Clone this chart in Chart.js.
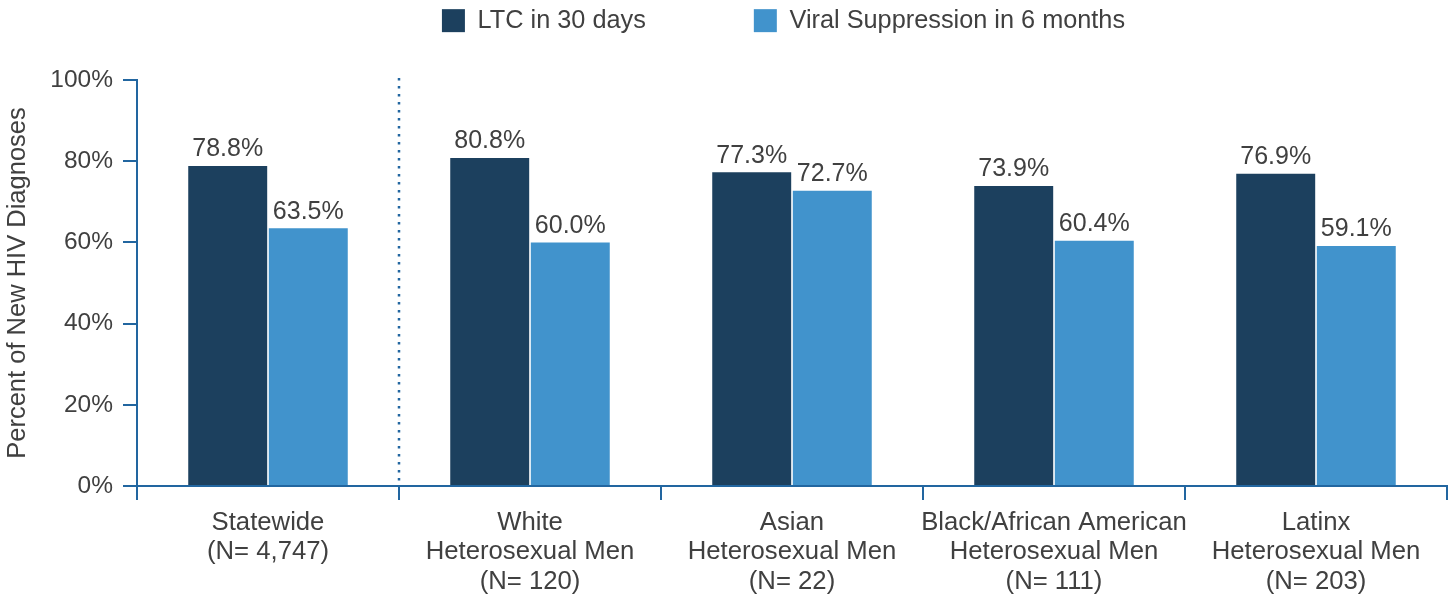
<!DOCTYPE html>
<html>
<head>
<meta charset="utf-8">
<script src="https://cdn.jsdelivr.net/npm/chart.js@4"></script>
<style>
  html, body { margin: 0; padding: 0; background: #ffffff; }
  #wrap { width: 1452px; height: 597px; position: relative; }
</style>
</head>
<body>
<div id="wrap"><canvas id="c"></canvas></div>
<script>
const categories = [
  ['Statewide', '(N= 4,747)'],
  ['White', 'Heterosexual Men', '(N= 120)'],
  ['Asian', 'Heterosexual Men', '(N= 22)'],
  ['Black/African American', 'Heterosexual Men', '(N= 111)'],
  ['Latinx', 'Heterosexual Men', '(N= 203)']
];
const seriesNames = ['LTC in 30 days', 'Viral Suppression in 6 months'];
const ltcValues = [78.8, 80.8, 77.3, 73.9, 76.9];
const vsValues = [63.5, 60.0, 72.7, 60.4, 59.1];
const yTicks = [0, 20, 40, 60, 80, 100];

const TEXT = '#404040';
const AXIS = '#2266a0';
const DARK = '#1c405e';
const LIGHT = '#4193cc';
const FONT = "'Liberation Sans', Arial, sans-serif";
const LEGEND_PAD = 108;

const valueLabels = {
  id: 'valueLabels',
  afterDatasetsDraw(chart) {
    const ctx = chart.ctx;
    ctx.save();
    ctx.font = '25px ' + FONT;
    ctx.fillStyle = TEXT;
    ctx.textAlign = 'center';
    ctx.textBaseline = 'bottom';
    chart.data.datasets.forEach((ds, di) => {
      const meta = chart.getDatasetMeta(di);
      meta.data.forEach((bar, i) => {
        ctx.fillText(ds.data[i].toFixed(1) + '%', bar.x, bar.y - 4);
      });
    });
    ctx.restore();
  }
};

const divider = {
  id: 'divider',
  afterDraw(chart) {
    const xs = chart.scales.x;
    const area = chart.chartArea;
    const x = (xs.getPixelForValue(0) + xs.getPixelForValue(1)) / 2;
    const ctx = chart.ctx;
    ctx.save();
    ctx.strokeStyle = AXIS;
    ctx.lineWidth = 2.5;
    ctx.setLineDash([2.5, 5.5]);
    ctx.beginPath();
    ctx.moveTo(x, area.top - 2);
    ctx.lineTo(x, area.bottom);
    ctx.stroke();
    ctx.restore();
  }
};

const legendPlace = {
  id: 'legendPlace',
  afterLayout(chart) {
    const lg = chart.legend;
    if (!lg) return;
    lg.top = 8 - LEGEND_PAD;
    lg.left += 60;
    lg.right += 60;
  }
};

new Chart(document.getElementById('c'), {
  type: 'bar',
  data: {
    labels: categories,
    datasets: [
      { label: seriesNames[0], data: ltcValues, backgroundColor: DARK,
        categoryPercentage: 0.615, barPercentage: 0.98 },
      { label: seriesNames[1], data: vsValues, backgroundColor: LIGHT,
        categoryPercentage: 0.615, barPercentage: 0.98 }
    ]
  },
  options: {
    responsive: true,
    maintainAspectRatio: false,
    animation: false,
    layout: { padding: { top: 0, right: 5, bottom: 0, left: 0 } },
    plugins: {
      tooltip: { enabled: false },
      legend: {
        position: 'top',
        maxHeight: 80,
        labels: {
          color: TEXT,
          font: { family: FONT, size: 25.3 },
          boxWidth: 23,
          boxHeight: 23,
          padding: LEGEND_PAD
        }
      }
    },
    scales: {
      x: {
        afterFit(s) { s.height = 111; },
        border: { display: true, color: AXIS, width: 2 },
        grid: { display: true, drawOnChartArea: false, drawTicks: true,
                tickLength: 14, color: AXIS, lineWidth: 2, offset: true },
        ticks: { color: TEXT, font: { family: FONT, size: 25.7, lineHeight: '29.5px' },
                 padding: 8, maxRotation: 0, autoSkip: false }
      },
      y: {
        min: 0, max: 100,
        afterFit(s) { s.width = 137; },
        afterBuildTicks(s) { s.ticks = yTicks.map(v => ({ value: v })); },
        border: { display: true, color: AXIS, width: 2 },
        grid: { display: true, drawOnChartArea: false, drawTicks: true,
                tickLength: 14, color: AXIS, lineWidth: 2 },
        ticks: { color: TEXT, font: { family: FONT, size: 24.5 }, padding: 10,
                 callback: v => v + '%' },
        title: { display: true, text: 'Percent of New HIV Diagnoses', color: TEXT,
                 font: { family: FONT, size: 25.5 }, padding: { top: 3, bottom: 4 } }
      }
    }
  },
  plugins: [valueLabels, divider, legendPlace]
});
</script>
</body>
</html>
